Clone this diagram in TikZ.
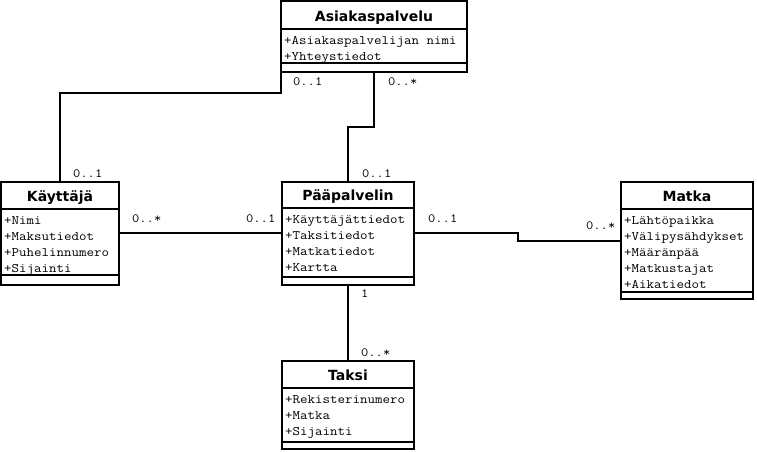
\documentclass[tikz,border=0pt]{standalone}
\usepackage{fontspec}
\usepackage{tikz}
\usetikzlibrary{calc}
\newfontfamily\attrtt[FakeStretch=1.12]{Latin Modern Mono}
\newfontfamily\otsfont{DejaVu Sans}
\newcommand{\attrfont}{\attrtt\fontsize{13}{16}\selectfont}
\newcommand{\titlefont}{\otsfont\bfseries\fontsize{14}{16}\selectfont}

\begin{document}
\begin{tikzpicture}[x=1pt,y=-1pt,
    luokka/.style={draw,line width=2pt,minimum width=#1,inner sep=0,outer sep=0},
    erotin/.style={line width=1.5pt},
    otsikko/.style={anchor=base,inner sep=0,font=\titlefont},
    piirre/.style={anchor=base west,inner sep=0,font=\attrfont},
    kerroin/.style={anchor=base west,inner sep=0,font=\attrtt\fontsize{12.6}{14}\selectfont},
    assoc/.style={line width=2pt}]
      \useasboundingbox (0,0) rectangle (757,451);
      % Asiakaspalvelu
      \node[luokka=186, minimum height=71] (asi) at (374,36.5) {};
      \node[otsikko] (asi-t) at (374,21.5) {Asiakaspalvelu};
      \draw[erotin] (asi.west |- 0,29) -- (asi.east |- 0,29) (asi.west |- 0,63) -- (asi.east |- 0,63);
      \foreach \rivi [count=\i] in {+Asiakaspalvelijan nimi,+Yhteystiedot}
        \node[piirre] (asi-\i) at (284,28+16*\i) {\rivi};
      % Kayttaja
      \node[luokka=118, minimum height=103] (kay) at (60,233) {};
      \node[otsikko] (kay-t) at (60,201.5) {Käyttäjä};
      \draw[erotin] (kay.west |- 0,209) -- (kay.east |- 0,209) (kay.west |- 0,275) -- (kay.east |- 0,275);
      \foreach \rivi [count=\i] in {+Nimi,+Maksutiedot,+Puhelinnumero,+Sijainti}
        \node[piirre] (kay-\i) at (4,208+16*\i) {\rivi};
      % Paapalvelin
      \node[luokka=132, minimum height=103] (paa) at (348,233) {};
      \node[otsikko] (paa-t) at (348,200.5) {Pääpalvelin};
      \draw[erotin] (paa.west |- 0,208) -- (paa.east |- 0,208) (paa.west |- 0,277) -- (paa.east |- 0,277);
      \foreach \rivi [count=\i] in {+Käyttäjättiedot,+Taksitiedot,+Matkatiedot,+Kartta}
        \node[piirre] (paa-\i) at (285,207+16*\i) {\rivi};
      % Matka
      \node[luokka=132, minimum height=117] (mat) at (687,240.5) {};
      \node[otsikko] (mat-t) at (687,201.5) {Matka};
      \draw[erotin] (mat.west |- 0,209) -- (mat.east |- 0,209) (mat.west |- 0,292) -- (mat.east |- 0,292);
      \foreach \rivi [count=\i] in {+Lähtöpaikka,+Välipysähdykset,+Määränpää,+Matkustajat,+Aikatiedot}
        \node[piirre] (mat-\i) at (624,208+16*\i) {\rivi};
      % Taksi
      \node[luokka=132, minimum height=88] (tak) at (348,405) {};
      \node[otsikko] (tak-t) at (348,380.5) {Taksi};
      \draw[erotin] (tak.west |- 0,388) -- (tak.east |- 0,388) (tak.west |- 0,442) -- (tak.east |- 0,442);
      \foreach \rivi [count=\i] in {+Rekisterinumero,+Matka,+Sijainti}
        \node[piirre] (tak-\i) at (285,387+16*\i) {\rivi};
      % associations
      \draw[assoc] (kay.north) |- ($(asi.south west)+(0,21)$) -- (asi.south west);
      \draw[assoc] (asi.south) |- ($(asi.south)!.5!(paa.north)$) -| (paa.north);
      \draw[assoc] (kay.east) -- (paa.west);
      \draw[assoc] (paa.east) -| ($(paa.east)!.5!(mat.west)$) |- (mat.west);
      \draw[assoc] (paa.south) -- (tak.north);
      \node[kerroin] at (293,85) {0..1};
      \node[kerroin] at (388,85) {0..*};
      \node[kerroin] at (73,177) {0..1};
      \node[kerroin] at (362,177) {0..1};
      \node[kerroin] at (132,222) {0..*};
      \node[kerroin] at (246,222) {0..1};
      \node[kerroin] at (428,222) {0..1};
      \node[kerroin] at (586,229) {0..*};
      \node[kerroin] at (361,297) {1};
      \node[kerroin] at (361,356) {0..*};
\end{tikzpicture}
\end{document}
